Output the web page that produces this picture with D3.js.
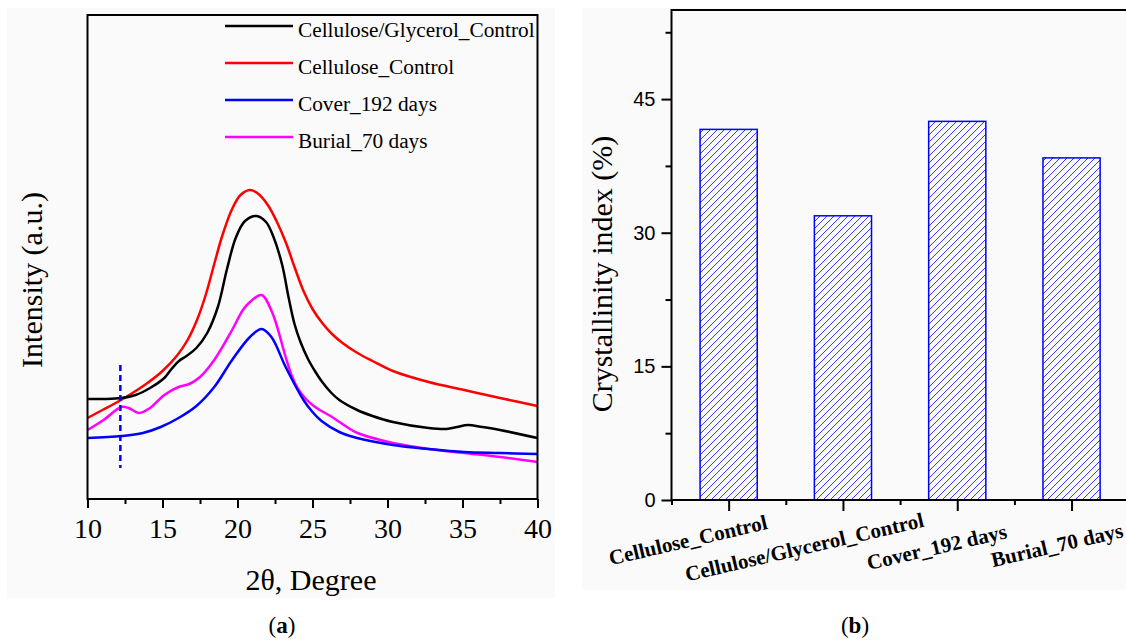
<!DOCTYPE html>
<html>
<head>
<meta charset="utf-8">
<script src="https://cdnjs.cloudflare.com/ajax/libs/d3/7.8.5/d3.min.js"></script>
<style>
  body { margin: 0; background: #fff; }
  svg { display: block; }
</style>
</head>
<body>
<script>
// (a) XRD patterns, [2theta, intensity a.u.]
var glycerolControl = [[10,100],[11.2,100],[12.26,101],[13.21,104],[14.17,111],[15.12,121],[15.6,130],[16.1,138],[16.6,143],[17.26,151],[17.98,166],[18.69,192],[19.3,230],[19.88,261],[20.5,278],[21.26,283],[21.9,277],[22.4,262],[22.98,234],[23.4,202],[23.8,175],[24.2,157],[24.7,140],[25.2,127],[25.6,118],[26.2,107],[26.79,99],[27.98,89],[29.0,83],[30.36,77],[32.74,71],[33.93,70],[34.64,72],[35.36,74],[36.31,72],[37.5,69],[40,61]];
var celluloseControl = [[10,81],[11,89],[12,97],[13,106],[14,116],[15,128],[16,144],[16.67,159],[17.3,179],[17.9,205],[18.45,235],[19.0,264],[19.64,290],[20.2,304],[20.83,309],[21.4,305],[22.02,294],[22.6,278],[23.21,257],[23.8,232],[24.4,208],[25.0,190],[25.65,176],[26.3,165],[27.0,156],[28.0,146],[29.0,138],[30.36,128],[32.74,117],[35.12,109],[37.5,101],[40,93]];
var cover192 = [[10,61],[12.26,63],[13.69,66],[14.88,72],[16.07,81],[17.26,93],[18.45,112],[19.64,139],[20.83,162],[21.6,170],[22.26,162],[23.21,132],[24.4,99],[25.0,87],[25.6,78],[26.79,67],[27.98,61],[30.36,54],[32.74,50],[35.12,47],[37.5,46],[40,45]];
var burial70 = [[10,69],[11.07,79],[12.26,92],[12.74,91],[13.45,86],[14.17,91],[15.12,104],[16.07,112],[16.79,115],[17.5,122],[18.45,139],[19.64,169],[20.36,189],[20.83,197],[21.6,204],[22.3,187],[23.21,142],[23.6,124],[24.0,111],[24.5,101],[25.0,94],[25.6,88],[26.2,83],[26.8,77],[27.4,71],[28.0,66],[30.36,56],[32.74,50],[35.12,46],[37.5,42],[40,37]];
var seriesNames = ['Cellulose/Glycerol_Control', 'Cellulose_Control', 'Cover_192 days', 'Burial_70 days'];
var seriesColors = ['#000000', '#ff0000', '#0000ff', '#ff00ff'];
var thetaTicks = [10, 15, 20, 25, 30, 35, 40];
var thetaMinor = [12.5, 17.5, 22.5, 27.5, 32.5, 37.5];
var markerTheta = [12.19];
var markerSpan = [31, 134];

// (b) crystallinity index
var sampleNames = ['Cellulose_Control', 'Cellulose/Glycerol_Control', 'Cover_192 days', 'Burial_70 days'];
var crystallinity = [41.6, 31.9, 42.5, 38.4];
var ciTicks = [0, 15, 30, 45];
var ciMinor = [7.5, 22.5, 37.5, 52.5];

(function(window){
    'use strict'

    var W = 1126, H = 643;
    var SERIF = "'Liberation Serif', 'Times New Roman', serif";
    var SANS = "'Liberation Sans', Arial, sans-serif";

    var svg = d3.select('body').append('svg')
        .attr('width', W)
        .attr('height', H);

    function styleTicks(g, width) {
        g.select('.domain').remove();
        g.selectAll('.tick line').attr('stroke', '#000').attr('stroke-width', width || 2);
        g.selectAll('.tick text').attr('fill', '#000');
    }

    // ---------- panel (a) ----------
    var A = {left: 87.5, right: 537.5, top: 15, bottom: 499};
    var xA = d3.scaleLinear().domain([10, 40]).range([A.left, A.right]);
    var yA = d3.scaleLinear().domain([0, 484]).range([A.bottom, A.top]);

    svg.append('rect')
        .attr('x', 7).attr('y', 8).attr('width', 548).attr('height', 590)
        .attr('fill', '#fafafa');

    var pa = svg.append('g');

    var line = d3.line()
        .x(function(d) { return xA(d[0]); })
        .y(function(d) { return yA(d[1]); })
        .curve(d3.curveCatmullRom.alpha(0.5));

    var allSeries = [glycerolControl, celluloseControl, cover192, burial70];
    var drawOrder = [1, 0, 3, 2];
    drawOrder.forEach(function(i) {
        pa.append('path')
            .attr('d', line(allSeries[i]))
            .attr('fill', 'none')
            .attr('stroke', seriesColors[i])
            .attr('stroke-width', 2.5);
    });

    pa.append('line')
        .attr('x1', xA(markerTheta[0])).attr('x2', xA(markerTheta[0]))
        .attr('y1', yA(markerSpan[1])).attr('y2', yA(markerSpan[0]))
        .attr('stroke', '#0000ff')
        .attr('stroke-width', 2.5)
        .attr('stroke-dasharray', '6,4');

    pa.append('rect')
        .attr('x', A.left).attr('y', A.top)
        .attr('width', A.right - A.left).attr('height', A.bottom - A.top)
        .attr('fill', 'none').attr('stroke', '#000').attr('stroke-width', 2);

    pa.append('g')
        .attr('transform', 'translate(0,' + A.bottom + ')')
        .call(d3.axisBottom(xA).tickValues(thetaMinor).tickSize(5).tickFormat(''))
        .call(styleTicks);

    pa.append('g')
        .attr('transform', 'translate(0,' + A.bottom + ')')
        .call(d3.axisBottom(xA).tickValues(thetaTicks).tickSize(9).tickPadding(10).tickFormat(d3.format('d')))
        .call(styleTicks)
        .attr('font-family', SERIF)
        .attr('font-size', 28);

    pa.append('text')
        .attr('x', 311).attr('y', 590)
        .attr('text-anchor', 'middle')
        .attr('font-family', SERIF).attr('font-size', 30)
        .text('2\u03b8, Degree');

    pa.append('text')
        .attr('transform', 'translate(42,280) rotate(-90)')
        .attr('text-anchor', 'middle')
        .attr('font-family', SERIF).attr('font-size', 30)
        .text('Intensity (a.u.)');

    var legend = pa.append('g');
    seriesNames.forEach(function(name, i) {
        var ly = 26 + i * 37;
        legend.append('line')
            .attr('x1', 225).attr('x2', 293)
            .attr('y1', ly).attr('y2', ly)
            .attr('stroke', seriesColors[i]).attr('stroke-width', 2.5);
        legend.append('text')
            .attr('x', 298).attr('y', ly + 11)
            .attr('font-family', SERIF).attr('font-size', 21.3)
            .text(name);
    });

    // ---------- panel (b) ----------
    var B = {left: 671.5, right: 1128.7, top: 10, bottom: 500};
    var xB = d3.scaleLinear().domain([0.5, 4.5]).range([B.left, B.right]);
    var yB = d3.scaleLinear().domain([0, 55]).range([B.bottom, B.top]);
    var bw = xB(1.25) - xB(0.75);

    svg.append('rect')
        .attr('x', 582).attr('y', 8).attr('width', 560).attr('height', 582)
        .attr('fill', '#fafafa');

    var defs = svg.append('defs');
    defs.append('pattern')
        .attr('id', 'hatch')
        .attr('patternUnits', 'userSpaceOnUse')
        .attr('width', 7).attr('height', 7)
      .append('path')
        .attr('d', 'M0,7 L7,0 M-1,1 L1,-1 M6,8 L8,6')
        .attr('stroke', '#3a3aff')
        .attr('stroke-width', 1);

    var pb = svg.append('g');

    pb.selectAll('rect.bar')
        .data(crystallinity)
        .enter().append('rect')
        .attr('class', 'bar')
        .attr('x', function(d, i) { return xB(i + 1) - bw / 2; })
        .attr('y', function(d) { return yB(d); })
        .attr('width', bw)
        .attr('height', function(d) { return yB(0) - yB(d); })
        .attr('fill', 'url(#hatch)')
        .attr('stroke', '#0000ff')
        .attr('stroke-width', 1.5);

    pb.append('path')
        .attr('d', 'M' + (B.right + 20) + ',' + B.top + 'H' + B.left + 'V' + B.bottom + 'H' + (B.right + 20))
        .attr('fill', 'none').attr('stroke', '#000').attr('stroke-width', 2);

    pb.append('g')
        .attr('transform', 'translate(' + B.left + ',0)')
        .call(d3.axisLeft(yB).tickValues(ciMinor).tickSize(6).tickFormat(''))
        .call(styleTicks);

    pb.append('g')
        .attr('transform', 'translate(' + B.left + ',0)')
        .call(d3.axisLeft(yB).tickValues(ciTicks).tickSize(10).tickPadding(6))
        .call(styleTicks)
        .attr('font-family', SANS)
        .attr('font-size', 20);

    pb.append('g')
        .attr('transform', 'translate(0,' + B.bottom + ')')
        .call(d3.axisBottom(xB).tickValues([0.5, 1.5, 2.5, 3.5, 4.5]).tickSize(5).tickFormat(''))
        .call(styleTicks);

    pb.append('g')
        .attr('transform', 'translate(0,' + B.bottom + ')')
        .call(d3.axisBottom(xB).tickValues([1, 2, 3, 4]).tickSize(11).tickFormat(''))
        .call(styleTicks);

    // rotated category labels, centre of baseline relative to tick
    var labelShift = [[-39, 547], [-37, 554], [-19, 554], [-13, 552]];
    sampleNames.forEach(function(name, i) {
        pb.append('text')
            .attr('transform', 'translate(' + (xB(i + 1) + labelShift[i][0]) + ',' + labelShift[i][1] + ') rotate(-13)')
            .attr('text-anchor', 'middle')
            .attr('font-family', SERIF).attr('font-size', 21).attr('font-weight', 'bold')
            .text(name);
    });

    pb.append('text')
        .attr('transform', 'translate(612,274) rotate(-90)')
        .attr('text-anchor', 'middle')
        .attr('font-family', SERIF).attr('font-size', 30)
        .text('Crystallinity index (%)');

    // ---------- captions ----------
    function caption(x, letter) {
        var t = svg.append('text')
            .attr('x', x).attr('y', 633)
            .attr('text-anchor', 'middle')
            .attr('font-family', SERIF).attr('font-size', 23);
        t.append('tspan').text('(');
        t.append('tspan').attr('font-weight', 'bold').text(letter);
        t.append('tspan').text(')');
    }
    caption(282, 'a');
    caption(855, 'b');

})(window);
</script>
</body>
</html>
